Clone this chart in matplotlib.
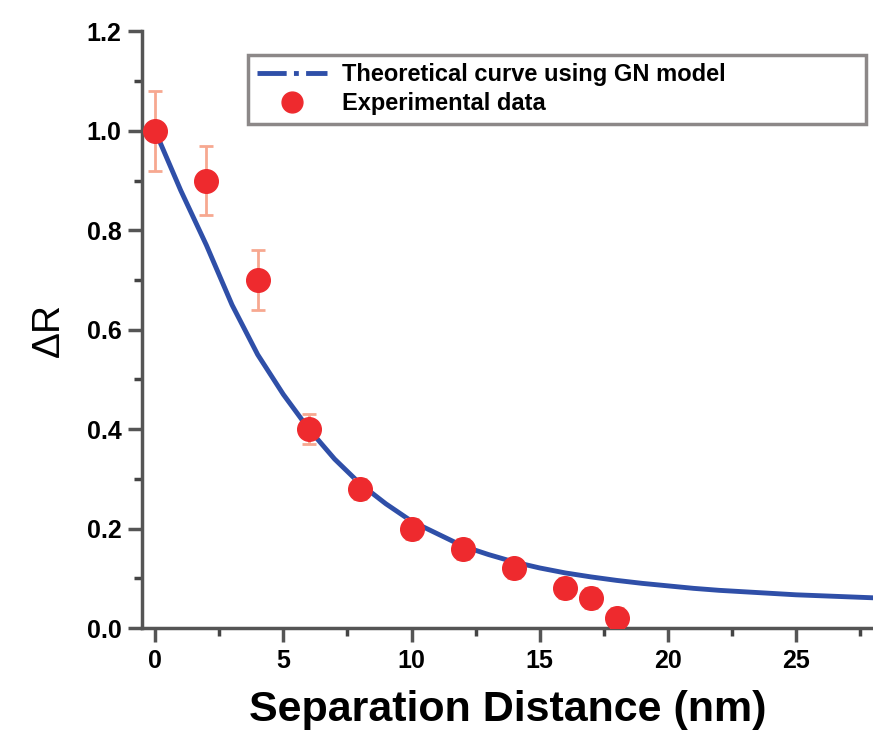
import matplotlib.pyplot as plt
from matplotlib.lines import Line2D

plt.rcParams['font.family'] = ['Liberation Sans', 'DejaVu Sans']
plt.rcParams['font.weight'] = 'bold'

# experimental points
sep_nm = [0, 2, 4, 6, 8, 10, 12, 14, 16, 17, 18]
delta_r = [1.00, 0.90, 0.70, 0.40, 0.28, 0.20, 0.16, 0.12, 0.08, 0.06, 0.02]
delta_r_err = [0.08, 0.07, 0.06, 0.03, 0.02, 0.02, 0.02, 0.02, 0.02, 0.02, 0.02]

# theoretical GN-model curve
curve_x = list(range(0, 29))
curve_y = [1.00, 0.88, 0.77, 0.65, 0.55, 0.47, 0.40, 0.34, 0.29, 0.25,
           0.215, 0.19, 0.165, 0.148, 0.133, 0.121, 0.111, 0.103, 0.096, 0.090,
           0.085, 0.080, 0.076, 0.073, 0.070, 0.067, 0.065, 0.063, 0.061]

fig = plt.figure(figsize=(8.73, 7.46), dpi=100)
ax = fig.add_axes([0.163, 0.158, 0.837, 0.80])

blue = '#2f4fa8'
red = '#ee2a2e'

ax.plot(curve_x, curve_y, color=blue, lw=3.5, zorder=2)
ax.errorbar(sep_nm, delta_r, yerr=delta_r_err, fmt='none', ecolor='#f7a890',
            elinewidth=2, capsize=5, capthick=2, zorder=3)
ax.plot(sep_nm, delta_r, 'o', color=red, ms=17, mec=red, zorder=4)

ax.set_xlim(-0.5, 28)
ax.set_ylim(0, 1.2)
ax.set_xticks([0, 5, 10, 15, 20, 25])
ax.set_xticks([2.5, 7.5, 12.5, 17.5, 22.5, 27.5], minor=True)
ax.set_yticks([0.0, 0.2, 0.4, 0.6, 0.8, 1.0, 1.2])
ax.set_yticks([0.1, 0.3, 0.5, 0.7, 0.9, 1.1], minor=True)
ax.set_yticklabels(['0.0', '0.2', '0.4', '0.6', '0.8', '1.0', '1.2'])

for side in ['top', 'right']:
    ax.spines[side].set_visible(False)
for side in ['left', 'bottom']:
    ax.spines[side].set_color('#555555')
    ax.spines[side].set_linewidth(2.5)

ax.tick_params(which='major', direction='out', length=10, width=2.5,
               color='#555555', labelsize=18, pad=5)
ax.tick_params(which='minor', direction='out', length=6, width=2.5,
               color='#444444')

ax.set_xlabel('Separation Distance (nm)', fontsize=31, fontweight='bold', labelpad=12)
ax.set_ylabel('ΔR', fontsize=28, fontweight='normal', labelpad=14)

handles = [Line2D([], [], color=blue, lw=3.5, ls=(0, (6, 1.5, 1, 1.5))),
           Line2D([], [], marker='o', ls='none', color=red, ms=15)]
leg = ax.legend(handles, ['Theoretical curve using GN model', 'Experimental data'],
                loc='upper left', bbox_to_anchor=(0.145, 0.835, 0.845, 0.125),
                mode='expand', fancybox=False, framealpha=1, edgecolor='#8c8888',
                fontsize=17, handlelength=3.0, handletextpad=0.6,
                borderaxespad=0, labelspacing=0.25, borderpad=0.35)
leg.get_frame().set_linewidth(2.5)

fig.savefig('out.png', dpi=100)
